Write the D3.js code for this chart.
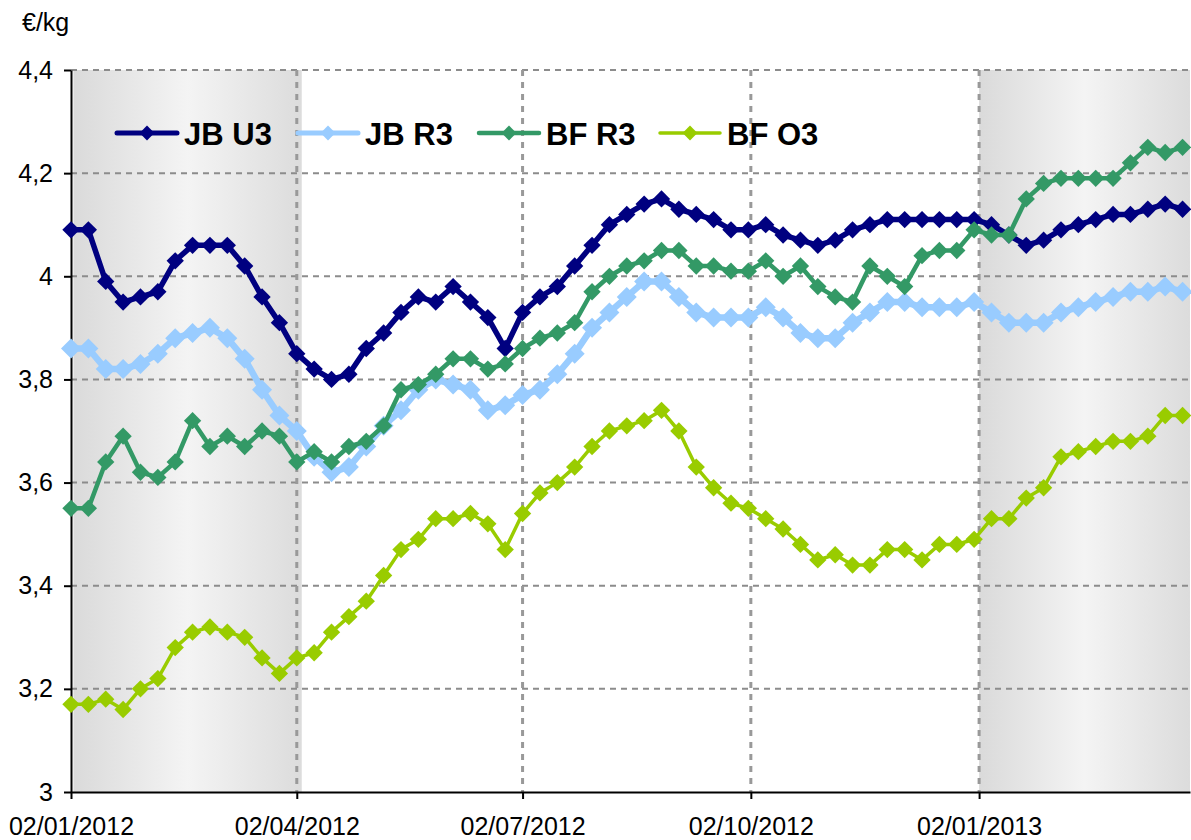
<!DOCTYPE html>
<html>
<head>
<meta charset="utf-8">
<script src="https://cdn.jsdelivr.net/npm/d3@7"></script>
<style>
  body { margin: 0; background: #fff; }
  svg { display: block; font-family: "Liberation Sans", Arial, sans-serif; }
</style>
</head>
<body>
<div id="chart"></div>
<script>
// weekly quotes (Monday)
const weeks = [
  "02/01/2012", "09/01/2012", "16/01/2012", "23/01/2012", "30/01/2012",
  "06/02/2012", "13/02/2012", "20/02/2012", "27/02/2012",
  "05/03/2012", "12/03/2012", "19/03/2012", "26/03/2012",
  "02/04/2012", "09/04/2012", "16/04/2012", "23/04/2012", "30/04/2012",
  "07/05/2012", "14/05/2012", "21/05/2012", "28/05/2012",
  "04/06/2012", "11/06/2012", "18/06/2012", "25/06/2012",
  "02/07/2012", "09/07/2012", "16/07/2012", "23/07/2012", "30/07/2012",
  "06/08/2012", "13/08/2012", "20/08/2012", "27/08/2012",
  "03/09/2012", "10/09/2012", "17/09/2012", "24/09/2012",
  "01/10/2012", "08/10/2012", "15/10/2012", "22/10/2012", "29/10/2012",
  "05/11/2012", "12/11/2012", "19/11/2012", "26/11/2012",
  "03/12/2012", "10/12/2012", "17/12/2012", "24/12/2012", "31/12/2012",
  "07/01/2013", "14/01/2013", "21/01/2013", "28/01/2013",
  "04/02/2013", "11/02/2013", "18/02/2013", "25/02/2013",
  "04/03/2013", "11/03/2013", "18/03/2013", "25/03/2013"
];

const jbU3 = [
  4.09, 4.09, 3.99, 3.95, 3.96, 3.97, 4.03, 4.06, 4.06, 4.06, 4.02, 3.96, 3.91,
  3.85, 3.82, 3.80, 3.81, 3.86, 3.89, 3.93, 3.96, 3.95, 3.98, 3.95, 3.92, 3.86,
  3.93, 3.96, 3.98, 4.02, 4.06, 4.10, 4.12, 4.14, 4.15, 4.13, 4.12, 4.11, 4.09,
  4.09, 4.10, 4.08, 4.07, 4.06, 4.07, 4.09, 4.10, 4.11, 4.11, 4.11, 4.11, 4.11,
  4.11, 4.10, 4.08, 4.06, 4.07, 4.09, 4.10, 4.11, 4.12, 4.12, 4.13, 4.14, 4.13
];
const jbR3 = [
  3.86, 3.86, 3.82, 3.82, 3.83, 3.85, 3.88, 3.89, 3.90, 3.88, 3.84, 3.78, 3.73,
  3.70, 3.65, 3.62, 3.63, 3.67, 3.71, 3.74, 3.78, 3.80, 3.79, 3.78, 3.74, 3.75,
  3.77, 3.78, 3.81, 3.85, 3.90, 3.93, 3.96, 3.99, 3.99, 3.96, 3.93, 3.92, 3.92,
  3.92, 3.94, 3.92, 3.89, 3.88, 3.88, 3.91, 3.93, 3.95, 3.95, 3.94, 3.94, 3.94,
  3.95, 3.93, 3.91, 3.91, 3.91, 3.93, 3.94, 3.95, 3.96, 3.97, 3.97, 3.98, 3.97
];
const bfR3 = [
  3.55, 3.55, 3.64, 3.69, 3.62, 3.61, 3.64, 3.72, 3.67, 3.69, 3.67, 3.70, 3.69,
  3.64, 3.66, 3.64, 3.67, 3.68, 3.71, 3.78, 3.79, 3.81, 3.84, 3.84, 3.82, 3.83,
  3.86, 3.88, 3.89, 3.91, 3.97, 4.00, 4.02, 4.03, 4.05, 4.05, 4.02, 4.02, 4.01,
  4.01, 4.03, 4.00, 4.02, 3.98, 3.96, 3.95, 4.02, 4.00, 3.98, 4.04, 4.05, 4.05,
  4.09, 4.08, 4.08, 4.15, 4.18, 4.19, 4.19, 4.19, 4.19, 4.22, 4.25, 4.24, 4.25
];
const bfO3 = [
  3.17, 3.17, 3.18, 3.16, 3.20, 3.22, 3.28, 3.31, 3.32, 3.31, 3.30, 3.26, 3.23,
  3.26, 3.27, 3.31, 3.34, 3.37, 3.42, 3.47, 3.49, 3.53, 3.53, 3.54, 3.52, 3.47,
  3.54, 3.58, 3.60, 3.63, 3.67, 3.70, 3.71, 3.72, 3.74, 3.70, 3.63, 3.59, 3.56,
  3.55, 3.53, 3.51, 3.48, 3.45, 3.46, 3.44, 3.44, 3.47, 3.47, 3.45, 3.48, 3.48,
  3.49, 3.53, 3.53, 3.57, 3.59, 3.65, 3.66, 3.67, 3.68, 3.68, 3.69, 3.73, 3.73
];

const seriesNames = ["JB U3", "JB R3", "BF R3", "BF O3"];
const seriesValues = [jbU3, jbR3, bfR3, bfO3];
const seriesColors = ["#000080", "#99ccff", "#339966", "#99cc00"];

const yTicks = [3, 3.2, 3.4, 3.6, 3.8, 4, 4.2, 4.4];
const yTickLabels = ["3", "3,2", "3,4", "3,6", "3,8", "4", "4,2", "4,4"];
const xTicks = ["02/01/2012", "02/04/2012", "02/07/2012", "02/10/2012", "02/01/2013"];
const xEnd = "28/03/2013";
// grey winter bands behind the lines
const shadeBands = [["03/01/2012", "04/04/2012"], ["02/01/2013", "28/03/2013"]];

const margin = { top: 70, right: 1, bottom: 48, left: 71 };
const W = 1191, H = 840;
const width = W - margin.left - margin.right;
const height = H - margin.top - margin.bottom;

const parse = d3.timeParse("%d/%m/%Y");

const x = d3.scaleTime()
  .domain([parse(xTicks[0]), parse(xEnd)])
  .range([0, width]);
const y = d3.scaleLinear().domain([3, 4.4]).range([height, 0]);

// line widths / marker sizes per series
const lineW = [5.5, 6.5, 4.5, 3.5];
const markSize = [150, 200, 150, 150];

const svg = d3.select("#chart").append("svg")
  .attr("width", W).attr("height", H);

const defs = svg.append("defs");
const grad = defs.append("linearGradient").attr("id", "shade")
  .attr("x1", "0%").attr("x2", "100%").attr("y1", "0%").attr("y2", "0%");
grad.append("stop").attr("offset", "0%").attr("stop-color", "#dadada");
grad.append("stop").attr("offset", "50%").attr("stop-color", "#f4f4f4");
grad.append("stop").attr("offset", "100%").attr("stop-color", "#dcdcdc");

const g = svg.append("g")
  .attr("transform", `translate(${margin.left},${margin.top})`);

// shaded periods
g.append("g").selectAll("rect")
  .data(shadeBands)
  .join("rect")
  .attr("x", (d) => x(parse(d[0])))
  .attr("width", (d) => x(parse(d[1])) - x(parse(d[0])))
  .attr("y", 0)
  .attr("height", height)
  .attr("fill", "url(#shade)");

// horizontal grid
g.append("g").selectAll("line")
  .data(yTicks.slice(1))
  .join("line")
  .attr("x1", 0).attr("x2", width)
  .attr("y1", (d) => y(d)).attr("y2", (d) => y(d))
  .attr("stroke", "#8c8c8c")
  .attr("stroke-width", 2)
  .attr("stroke-dasharray", "6,5");

// vertical grid
g.append("g").selectAll("line")
  .data(xTicks.slice(1))
  .join("line")
  .attr("x1", (d) => x(parse(d))).attr("x2", (d) => x(parse(d)))
  .attr("y1", 0).attr("y2", height)
  .attr("stroke", "#999")
  .attr("stroke-width", 3)
  .attr("stroke-dasharray", "6,6");

// axes
const yAxis = d3.axisLeft(y)
  .tickValues(yTicks)
  .tickFormat((d, i) => yTickLabels[i])
  .tickSize(7).tickSizeOuter(0).tickPadding(11);
const xAxis = d3.axisBottom(x)
  .tickValues(xTicks.map(parse))
  .tickFormat((d, i) => xTicks[i])
  .tickSize(7).tickSizeOuter(0).tickPadding(18);

const yg = g.append("g").call(yAxis);
const xg = g.append("g").attr("transform", `translate(0,${height})`).call(xAxis);
[yg, xg].forEach((a) => {
  a.select(".domain").attr("stroke", "#000").attr("stroke-width", 2);
  a.selectAll(".tick line").attr("stroke", "#000").attr("stroke-width", 2);
  a.selectAll(".tick text")
    .attr("fill", "#000")
    .style("font-size", "25px")
    .style("font-family", "'Liberation Sans', Arial, sans-serif");
});

// unit label
svg.append("text")
  .attr("x", 22).attr("y", 31)
  .style("font-size", "25px")
  .text("€/kg");

// series
const line = d3.line()
  .x((d, i) => x(parse(weeks[i])))
  .y((d) => y(d));

seriesValues.forEach((vals, s) => {
  const sg = g.append("g").attr("class", "series");
  sg.append("path")
    .datum(vals)
    .attr("d", line)
    .attr("fill", "none")
    .attr("stroke", seriesColors[s])
    .attr("stroke-width", lineW[s])
    .attr("stroke-linejoin", "round");
  sg.selectAll("path.mk")
    .data(vals)
    .join("path")
    .attr("class", "mk")
    .attr("d", d3.symbol(d3.symbolSquare, markSize[s]))
    .attr("transform", (d, i) =>
      `translate(${x(parse(weeks[i]))},${y(d)}) rotate(45)`)
    .attr("fill", seriesColors[s]);
});

// legend
const legend = svg.append("g").attr("transform", "translate(117,133)");
const items = legend.selectAll("g")
  .data(seriesNames)
  .join("g")
  .attr("transform", (d, i) => `translate(${i * 181},0)`);
items.append("line")
  .attr("x1", 0).attr("x2", 60)
  .attr("stroke", (d, i) => seriesColors[i])
  .attr("stroke-width", (d, i) => Math.min(lineW[i], 5))
  .attr("stroke-linecap", "round");
items.append("path")
  .attr("d", d3.symbol(d3.symbolSquare, 110))
  .attr("transform", "translate(30,0) rotate(45)")
  .attr("fill", (d, i) => seriesColors[i]);
items.append("text")
  .attr("x", 67).attr("y", 12)
  .style("font-size", "31px")
  .style("font-weight", "bold")
  .text((d) => d);
</script>
</body>
</html>
